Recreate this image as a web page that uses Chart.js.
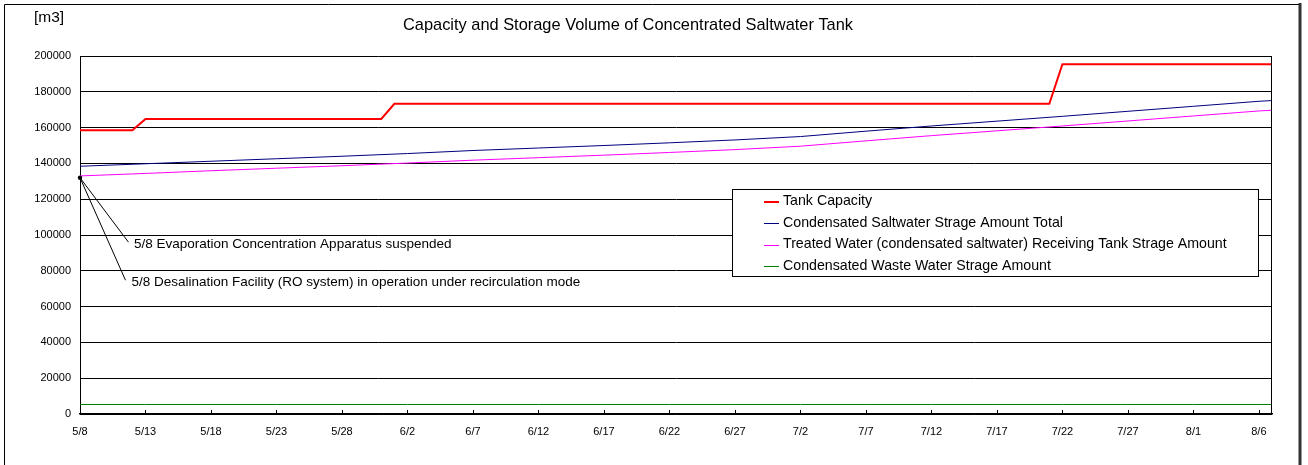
<!DOCTYPE html>
<html>
<head>
<meta charset="utf-8">
<script src="https://cdn.jsdelivr.net/npm/chart.js@4/dist/chart.umd.min.js"></script>
<style>
  html, body { margin: 0; padding: 0; background: #fff; }
  #wrap { position: relative; width: 1308px; height: 465px; }
</style>
</head>
<body>
<div id="wrap"><canvas id="c" width="1308" height="465"></canvas></div>
<script>
// ---------- data ----------
const chartTitle = 'Capacity and Storage Volume of Concentrated Saltwater Tank';
const unitLabel = '[m3]';
const tickLabels = ['5/8','5/13','5/18','5/23','5/28','6/2','6/7','6/12','6/17','6/22','6/27','7/2','7/7','7/12','7/17','7/22','7/27','8/1','8/6'];
const seriesNames = [
  'Tank Capacity',
  'Condensated Saltwater Strage Amount Total',
  'Treated Water (condensated saltwater) Receiving Tank Strage Amount',
  'Condensated Waste Water Strage Amount'
];
// day index counted from 5/8
const capacityDays = [0, 4, 5, 23, 24, 74, 75, 91];
const tankCapacity = [158500, 158500, 164800, 164800, 173300, 173300, 195400, 195400];
const sampleDays = [0, 5, 10, 15, 20, 25, 30, 35, 40, 45, 50, 55, 60, 65, 70, 75, 80, 85, 90, 91];
const totalStorage = [138400, 139800, 141200, 142600, 144000, 145500, 147200, 148600, 150000, 151500, 153100, 155000, 158000, 160900, 163600, 166300, 169100, 171900, 174700, 175100];
const treatedStorage = [133000, 134400, 135900, 137300, 138700, 140200, 141800, 143200, 144600, 146100, 147700, 149600, 152600, 155500, 158200, 160900, 163700, 166500, 169300, 169700];
const wasteStorage = [5300, 5300, 5300, 5300, 5300, 5300, 5300, 5300, 5300, 5300, 5300, 5300, 5300, 5300, 5300, 5300, 5300, 5300, 5300, 5300];
const noteTexts = [
  '5/8 Evaporation Concentration Apparatus suspended',
  '5/8 Desalination Facility (RO system) in operation under recirculation mode'
];
const noteDay = 0;
const noteValue = 132000;

// ---------- styles ----------
const FONT = '"Liberation Sans", Arial, Helvetica, sans-serif';
const seriesColors = ['#FF0000', '#000080', '#FF00FF', '#008000'];
const seriesWidths = [2, 1, 1, 1];

function pts(days, vals) { return days.map((d, i) => ({ x: d, y: vals[i] })); }

const decorPlugin = {
  id: 'decor',
  beforeDraw(chart) {
    const ctx = chart.ctx;
    ctx.save();
    ctx.fillStyle = '#fff';
    ctx.fillRect(0, 0, chart.width, chart.height);
    ctx.restore();
  },
  afterDraw(chart) {
    const ctx = chart.ctx;
    const a = chart.chartArea;
    const xs = chart.scales.x, ys = chart.scales.y;
    ctx.save();
    // plot right border
    ctx.strokeStyle = '#000';
    ctx.lineWidth = 1;
    ctx.beginPath();
    ctx.moveTo(Math.round(a.right) - 0.5, a.top);
    ctx.lineTo(Math.round(a.right) - 0.5, a.bottom);
    ctx.stroke();
    // inward tick marks on x axis
    ctx.beginPath();
    xs.ticks.forEach(t => {
      const px = Math.round(xs.getPixelForValue(t.value)) + 0.5;
      ctx.moveTo(px, a.bottom);
      ctx.lineTo(px, a.bottom - 4);
    });
    ctx.stroke();
    // outer frame
    ctx.beginPath();
    ctx.moveTo(4.5, chart.height + 2);
    ctx.lineTo(4.5, 4.5);
    ctx.lineTo(1300, 4.5);
    ctx.stroke();
    ctx.strokeStyle = '#333';
    ctx.lineWidth = 3;
    ctx.beginPath();
    ctx.moveTo(1300, 3);
    ctx.lineTo(1300, chart.height + 2);
    ctx.stroke();

    // title and unit
    ctx.fillStyle = '#000';
    ctx.textBaseline = 'middle';
    ctx.textAlign = 'center';
    ctx.font = '16.4px ' + FONT;
    ctx.fillText(chartTitle, 628, 25);
    ctx.textAlign = 'left';
    ctx.font = '15.5px ' + FONT;
    ctx.fillText(unitLabel, 34, 18);

    // annotations
    const ax = xs.getPixelForValue(noteDay);
    const ay = ys.getPixelForValue(noteValue);
    ctx.strokeStyle = '#000';
    ctx.lineWidth = 1;
    ctx.beginPath();
    ctx.moveTo(ax, ay); ctx.lineTo(ax + 48.5, ay + 64.5);
    ctx.moveTo(ax, ay); ctx.lineTo(ax + 45.5, ay + 102.5);
    ctx.stroke();
    ctx.beginPath();
    ctx.arc(ax, ay, 2.2, 0, Math.PI * 2);
    ctx.fill();
    ctx.font = '13.5px ' + FONT;
    ctx.fillText(noteTexts[0], ax + 54, ay + 67);
    ctx.fillText(noteTexts[1], ax + 51.5, ay + 104.5);

    // legend box
    const lx = 732.5, ly = 189.5, lw = 526, lh = 87;
    ctx.fillStyle = '#fff';
    ctx.fillRect(lx, ly, lw, lh);
    ctx.strokeStyle = '#000';
    ctx.lineWidth = 1;
    ctx.strokeRect(lx, ly, lw, lh);
    ctx.font = '14.2px ' + FONT;
    ctx.textBaseline = 'middle';
    chart.data.datasets.forEach((ds, i) => {
      const yy = 201.5 + i * 21.5;
      ctx.strokeStyle = ds.borderColor;
      ctx.lineWidth = ds.borderWidth;
      ctx.beginPath();
      ctx.moveTo(764, Math.round(yy) + (ds.borderWidth === 1 ? 0.5 : 0));
      ctx.lineTo(779, Math.round(yy) + (ds.borderWidth === 1 ? 0.5 : 0));
      ctx.stroke();
      ctx.fillStyle = '#000';
      ctx.fillText(ds.label, 783, yy);
    });
    ctx.restore();
  }
};

const datasets = [
  { label: seriesNames[0], data: pts(capacityDays, tankCapacity) },
  { label: seriesNames[1], data: pts(sampleDays, totalStorage) },
  { label: seriesNames[2], data: pts(sampleDays, treatedStorage) },
  { label: seriesNames[3], data: pts(sampleDays, wasteStorage) }
].map((d, i) => Object.assign(d, {
  borderColor: seriesColors[i],
  backgroundColor: seriesColors[i],
  borderWidth: seriesWidths[i],
  pointRadius: 0,
  tension: 0,
  fill: false
}));

new Chart(document.getElementById('c'), {
  type: 'line',
  data: { datasets },
  plugins: [decorPlugin],
  options: {
    responsive: false,
    animation: false,
    layout: { padding: { left: 0, right: 36, top: 56, bottom: 0 } },
    plugins: {
      legend: { display: false },
      title: { display: false },
      tooltip: { enabled: false }
    },
    scales: {
      x: {
        type: 'linear',
        min: 0,
        max: 91,
        afterBuildTicks: s => { s.ticks = tickLabels.map((_, i) => ({ value: i * 5 })); },
        afterFit: s => { s.height = 51; },
        grid: { display: false, drawTicks: false },
        border: { display: true, color: '#000', width: 1.5 },
        ticks: {
          padding: 11,
          color: '#000',
          autoSkip: false,
          maxRotation: 0,
          font: { family: FONT, size: 11 },
          callback: (v, i) => tickLabels[i]
        }
      },
      y: {
        min: 0,
        max: 200000,
        afterFit: s => { s.width = 80; },
        grid: { color: '#000', lineWidth: 1, drawTicks: false },
        border: { display: true, color: '#000', width: 1 },
        ticks: {
          stepSize: 20000,
          padding: 9,
          color: '#000',
          font: { family: FONT, size: 11 },
          callback: v => String(v)
        }
      }
    }
  }
});
</script>
</body>
</html>
